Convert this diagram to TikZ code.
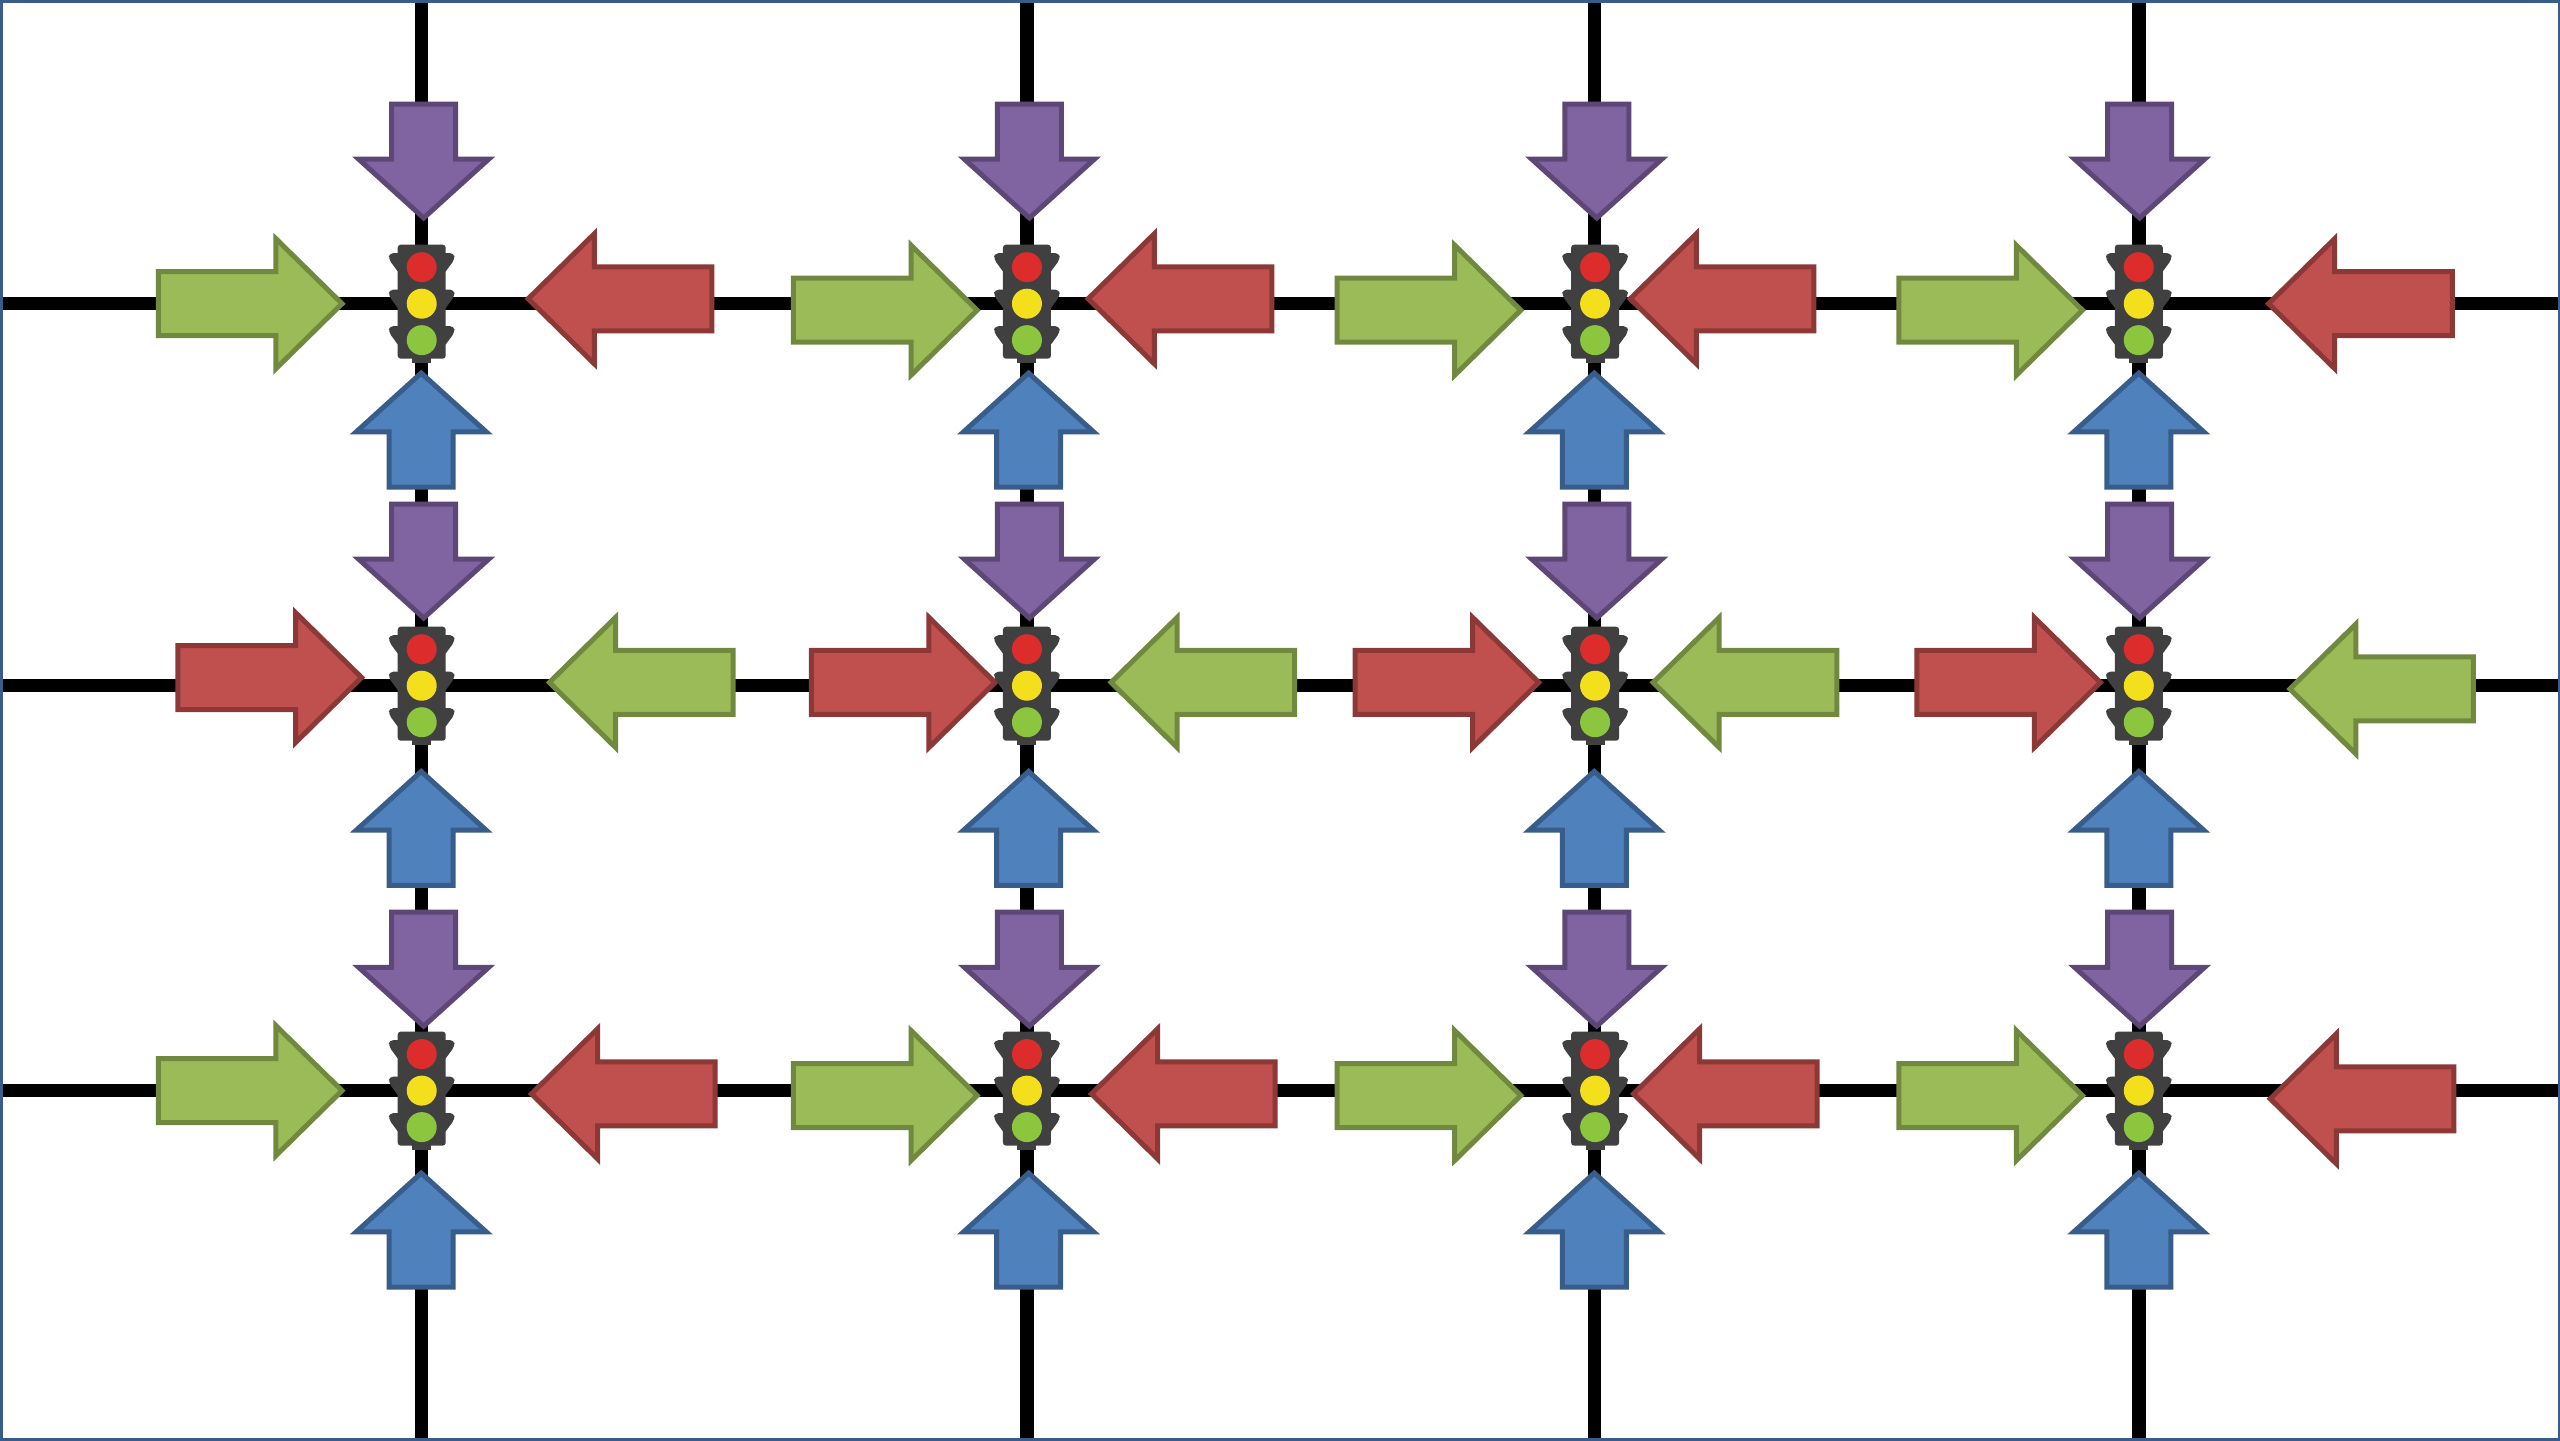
\documentclass[tikz,border=0pt]{standalone}
\definecolor{frameblue}{HTML}{385D8A}
\definecolor{purplefill}{HTML}{8064A2}\definecolor{purpleline}{HTML}{5C4776}
\definecolor{redfill}{HTML}{C0504D}\definecolor{redline}{HTML}{8C3836}
\definecolor{greenfill}{HTML}{9BBB59}\definecolor{greenline}{HTML}{71893F}
\definecolor{bluefill}{HTML}{4F81BD}\definecolor{blueline}{HTML}{385D8A}
\definecolor{housing}{HTML}{404040}
\definecolor{lampred}{HTML}{DD2C2C}\definecolor{lampyellow}{HTML}{F4DF1C}\definecolor{lampgreen}{HTML}{8CC63F}
\tikzset{
  road/.style={line width=13.5pt,black},
  arrowbase/.style={line width=5pt,miter limit=10},
  purplearrow/.style={arrowbase,fill=purplefill,draw=purpleline},
  redarrow/.style={arrowbase,fill=redfill,draw=redline},
  greenarrow/.style={arrowbase,fill=greenfill,draw=greenline},
  bluearrow/.style={arrowbase,fill=bluefill,draw=blueline},
}
% #1 style, #2 tip x, #3 tip y, #4 angle; outer tip at the given point
\newcommand\harrow[4]{\draw[#1,shift={(#2,#3)},rotate=#4]
  (-0.5,0)--(-41,39.8)--(-41,19.6)--(-113,19.6)--(-113,-19.6)--(-41,-19.6)--(-41,-39.8)--cycle;}
\newcommand\varrow[4]{\draw[#1,shift={(#2,#3)},rotate=#4]
  (-0.5,0)--(-36.5,39.8)--(-36.5,19.6)--(-70.3,19.6)--(-70.3,-19.6)--(-36.5,-19.6)--(-36.5,-39.8)--cycle;}
\newcommand\lightwing[1]{%
  \fill[housing,rounded corners=4pt] (-22,#1+7)--(-33,#1-8)--(-32.5,#1-14)--(32.5,#1-14)--(33,#1-8)--(22,#1+7)--cycle;}
\newcommand\trafficlight[2]{\begin{scope}[shift={(#1,#2)},x=1pt,y=-1pt]
  \lightwing{-36.5}\lightwing{0}\lightwing{36.5}
  \fill[housing] (-9.5,50)rectangle(9.5,59.5);
  \fill[housing,rounded corners=3pt] (-24,-59)rectangle(24,55);
  \fill[lampred] (0,-36.5) circle (15pt);
  \fill[lampyellow] (0,0) circle (15pt);
  \fill[lampgreen] (0,36.5) circle (15pt);
\end{scope}}
\begin{document}
\begin{tikzpicture}[x=1.632653pt,y=-1.632653pt]
\useasboundingbox (0,0) rectangle (1568,882);
\fill[white] (0,0) rectangle (1568,882);
\foreach \rx in {258.3,629,976.5,1310} {\draw[road] (\rx,0)--(\rx,882);}
\foreach \ry in {186,420,668} {\draw[road] (0,\ry)--(1568,\ry);}
% purple
\foreach \px in {259.5,630.5,978,1310.5} {\foreach \py in {134,379,629} {
  \varrow{purplearrow}{\px}{\py}{-90}}}
% blue
\foreach \bx in {258,630,976.5,1310} {\foreach \by in {228,472,718} {
  \varrow{bluearrow}{\bx}{\by}{90}}}
% row 1
\harrow{greenarrow}{210}{186}{0}\harrow{redarrow}{323}{183}{180}
\harrow{greenarrow}{599}{190}{0}\harrow{redarrow}{666}{183}{180}
\harrow{greenarrow}{932}{190}{0}\harrow{redarrow}{998}{183}{180}
\harrow{greenarrow}{1276}{190}{0}\harrow{redarrow}{1389}{186}{180}
% row 2
\harrow{redarrow}{222}{415}{0}\harrow{greenarrow}{336}{418}{180}
\harrow{redarrow}{610}{418}{0}\harrow{greenarrow}{680}{418}{180}
\harrow{redarrow}{943}{418}{0}\harrow{greenarrow}{1012}{418}{180}
\harrow{redarrow}{1287}{418}{0}\harrow{greenarrow}{1402}{422}{180}
% row 3
\harrow{greenarrow}{210}{668}{0}\harrow{redarrow}{325}{670}{180}
\harrow{greenarrow}{599}{671}{0}\harrow{redarrow}{668}{670}{180}
\harrow{greenarrow}{932}{671}{0}\harrow{redarrow}{1000}{670}{180}
\harrow{greenarrow}{1276}{671}{0}\harrow{redarrow}{1390}{673}{180}
% lights
\foreach \lx in {258.3,629,977,1310} {\foreach \ly in {186,420,668} {
  \trafficlight{\lx}{\ly}}}
\draw[frameblue,line width=5pt] (0,0) rectangle (1568,882);
\end{tikzpicture}
\end{document}
